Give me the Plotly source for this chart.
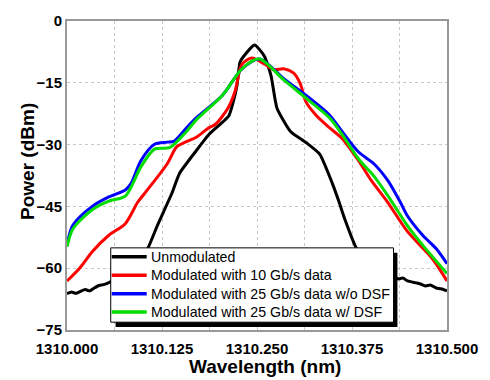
import plotly.graph_objects as go

# ---- data ----
wl_unmod = [1310.000, 1310.006, 1310.012, 1310.018, 1310.024, 1310.030, 1310.036, 1310.042,
            1310.048, 1310.055, 1310.075, 1310.090, 1310.106, 1310.119, 1310.138, 1310.148,
            1310.170, 1310.187, 1310.205, 1310.213, 1310.221, 1310.2238, 1310.2276, 1310.2315,
            1310.2468, 1310.2596, 1310.2685, 1310.2762, 1310.2941, 1310.3146, 1310.3325,
            1310.3491, 1310.3581, 1310.3657, 1310.3811, 1310.400, 1310.4297, 1310.436,
            1310.442, 1310.448, 1310.4604, 1310.466, 1310.472, 1310.478, 1310.4859, 1310.492,
            1310.500]
p_unmod = [-66.2, -65.8, -66.1, -65.6, -65.2, -65.5, -64.8, -64.2,
           -64.0, -63.5, -61.5, -59.5, -55.3, -49.6, -41.8, -37.0,
           -31.5, -27.5, -24.5, -23.0, -18.0, -15.5, -10.0, -8.8,
           -5.8, -8.5, -13.3, -21.1, -26.8, -29.5, -32.3,
           -39.4, -44.0, -48.2, -55.3, -59.5, -62.0, -62.6,
           -62.4, -63.1, -63.6, -63.9, -64.3, -64.1, -64.8, -65.0,
           -65.5]

wl_10g = [1310.000, 1310.0166, 1310.0332, 1310.055, 1310.0767, 1310.093, 1310.1023, 1310.1317,
          1310.1445, 1310.157, 1310.1701, 1310.1867, 1310.1957, 1310.2123, 1310.2212, 1310.2302,
          1310.2430, 1310.2596, 1310.2724, 1310.2852, 1310.2980, 1310.3069, 1310.3146, 1310.3274,
          1310.3453, 1310.3619, 1310.3836, 1310.4003, 1310.4220, 1310.4476, 1310.4808, 1310.500]
p_10g = [-63.1, -60.0, -56.0, -52.0, -49.2, -44.0, -41.8, -34.7,
         -30.5, -29.3, -28.2, -25.9, -25.0, -21.0, -17.0, -10.5,
         -9.0, -10.4, -11.8, -11.6, -12.6, -15.2, -19.7, -22.8,
         -25.9, -28.5, -33.9, -38.7, -44.0, -51.0, -57.7, -63.1]

wl_25g = [1310.000, 1310.0077, 1310.0332, 1310.055, 1310.0767, 1310.0844, 1310.0972, 1310.1151,
          1310.1317, 1310.1407, 1310.1573, 1310.1701, 1310.2046, 1310.2302, 1310.2532, 1310.2852,
          1310.3197, 1310.3453, 1310.3619, 1310.3836, 1310.4041, 1310.4220, 1310.4386, 1310.4476,
          1310.4680, 1310.4859, 1310.500]
p_25g = [-54.4, -49.6, -45.0, -42.7, -41.0, -39.4, -33.9, -29.9,
         -29.4, -29.2, -25.9, -23.5, -18.0, -11.6, -9.2, -14.0,
         -18.8, -22.8, -26.8, -31.8, -34.7, -38.7, -44.0, -47.2,
         -52.0, -55.3, -58.9]

wl_25g_dsf = [1310.000, 1310.0077, 1310.0332, 1310.055, 1310.0767, 1310.0972, 1310.1151, 1310.1355,
              1310.1573, 1310.1701, 1310.2046, 1310.2302, 1310.2532, 1310.2852, 1310.3197, 1310.3453,
              1310.3619, 1310.3836, 1310.4041, 1310.4258, 1310.4476, 1310.4680, 1310.500]
p_25g_dsf = [-54.8, -50.5, -45.8, -43.7, -42.5, -35.4, -31.1, -30.7,
             -26.8, -24.0, -18.0, -11.6, -9.2, -14.3, -19.5, -23.5,
             -27.5, -33.5, -37.7, -43.4, -49.6, -54.4, -61.3]

names = ["Unmodulated", "Modulated with 10 Gb/s data",
         "Modulated with 25 Gb/s data w/o DSF", "Modulated with 25 Gb/s data w/ DSF"]
colors = ["#000000", "#ff0000", "#0000ff", "#00dd00"]

x_ticks = [1310.000, 1310.125, 1310.250, 1310.375, 1310.500]
y_ticks = [0, -15, -30, -45, -60, -75]
x_title = "Wavelength (nm)"
y_title = "Power (dBm)"

FONT = "Arial, Liberation Sans, sans-serif"

fig = go.Figure()
series = [(wl_unmod, p_unmod, 0.5), (wl_10g, p_10g, 0.8),
          (wl_25g, p_25g, 0.8), (wl_25g_dsf, p_25g_dsf, 0.8)]
for (x, y, sm), n, c in zip(series, names, colors):
    fig.add_trace(go.Scatter(x=x, y=y, mode="lines", name=n, showlegend=False,
                             line=dict(color=c, width=3, shape="spline", smoothing=sm)))

# plot-area pixel geometry
W, H = 490, 380
L, R, T, B = 67, 458, 14, 330
def px_x(p): return (p - L) / (R - L)
def px_y(p): return (B - p) / (B - T)

# boxed legend with drop shadow (drawn in paper space)
fig.add_shape(type="rect", xref="paper", yref="paper",
              x0=px_x(117), x1=px_x(407), y0=px_y(327), y1=px_y(251),
              fillcolor="black", line=dict(width=0), layer="above")
fig.add_shape(type="rect", xref="paper", yref="paper",
              x0=px_x(112), x1=px_x(403), y0=px_y(322), y1=px_y(246),
              fillcolor="white", line=dict(color="black", width=1), layer="above")
row_y = [255, 274, 293, 311.5]
annotations = []
for ry, n, c in zip(row_y, names, colors):
    fig.add_shape(type="line", xref="paper", yref="paper",
                  x0=px_x(113), x1=px_x(149), y0=px_y(ry), y1=px_y(ry),
                  line=dict(color=c, width=3.5), layer="above")
    annotations.append(dict(text=n, xref="paper", yref="paper", x=px_x(151), y=px_y(ry),
                            xanchor="left", yanchor="middle", showarrow=False,
                            font=dict(size=14.2, family=FONT, color="black")))

annotations.append(dict(text=x_title, xref="paper", yref="paper", x=px_x(271), y=px_y(367),
                        xanchor="center", yanchor="middle", showarrow=False,
                        font=dict(size=19, family=FONT, color="black", weight="bold")))
annotations.append(dict(text=y_title, xref="paper", yref="paper", x=px_x(27), y=px_y(158),
                        xanchor="center", yanchor="middle", showarrow=False, textangle=-90,
                        font=dict(size=19, family=FONT, color="black", weight="bold")))

fig.update_layout(
    width=W, height=H,
    margin=dict(l=L, r=W - R, t=T, b=H - B),
    paper_bgcolor="white", plot_bgcolor="white",
    font=dict(family=FONT, color="black"),
    showlegend=False,
    annotations=annotations,
)
fig.update_xaxes(range=[1310.0, 1310.5], tickvals=x_ticks, tickformat=".3f",
                 showgrid=True, gridcolor="#c8c8c8", griddash="dot", gridwidth=1,
                 minor=dict(dtick=0.0625, tick0=1310.0, showgrid=True, gridcolor="#c8c8c8",
                            griddash="dot", gridwidth=1),
                 showline=True, linecolor="#999999", linewidth=2, mirror=True,
                 zeroline=False, ticks="", ticklabelstandoff=4,
                 tickfont=dict(size=15, family=FONT, weight="bold"))
fig.update_yaxes(range=[-75, 0], tickvals=y_ticks,
                 showgrid=True, gridcolor="#c8c8c8", griddash="dot", gridwidth=1,
                 showline=True, linecolor="#999999", linewidth=2, mirror=True,
                 zeroline=False, ticks="",
                 tickfont=dict(size=15, family=FONT, weight="bold"))

fig.write_html("out.html")
